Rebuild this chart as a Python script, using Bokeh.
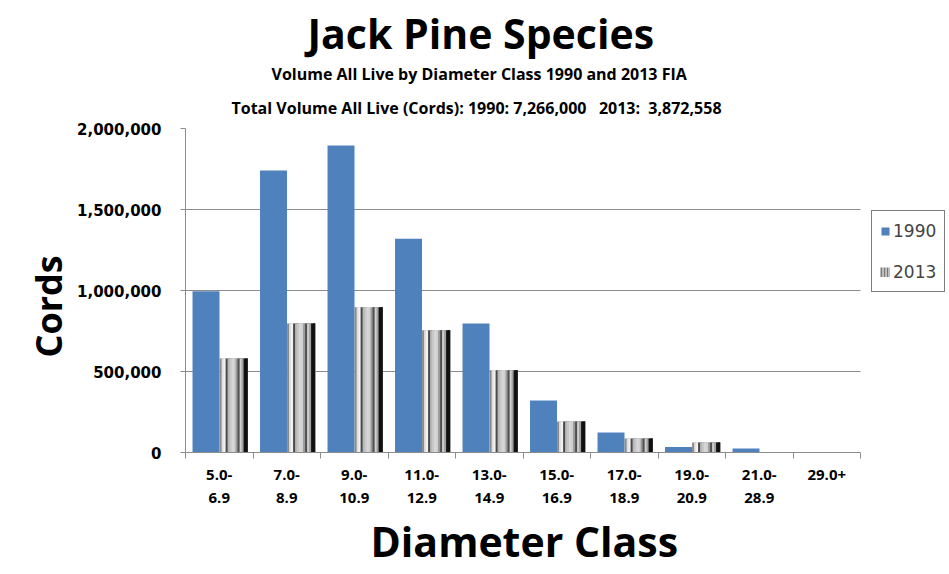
import numpy as np
from bokeh.plotting import figure
from bokeh.models import (Range1d, FixedTicker, NumeralTickFormatter, Title,
                          Legend, LegendItem, ColumnDataSource, BoxAnnotation)
from bokeh.embed import file_html
from bokeh.resources import INLINE

# ---- data ----
categories = ["5.0-\n6.9", "7.0-\n8.9", "9.0-\n10.9", "11.0-\n12.9", "13.0-\n14.9",
              "15.0-\n16.9", "17.0-\n18.9", "19.0-\n20.9", "21.0-\n28.9", "29.0+"]
vol_1990 = [995000, 1740000, 1895000, 1320000, 797000, 321000, 123000, 34000, 25000, 0]
vol_2013 = [580000, 797000, 896000, 754000, 507000, 192000, 86000, 62000, 0, 0]
y_ticks = [0, 500000, 1000000, 1500000, 2000000]
series_names = ["1990", "2013"]

# ---- styles ----
BLUE = "#4f81bd"
GRID = "#8c8c8c"
STRIPES = ["#8a8a8a", "#e0e0e0", "#f2f2f2", "#4a4a4a", "#b8b8b8", "#c8c8c8", "#d8d8d8",
           "#d0d0d0", "#9a9a9a", "#505050", "#cfcfcf", "#a0a0a0", "#111111", "#111111"]
TITLE_FONT = "Open Sans"
NB = "\u00a0"

n = len(categories)
idx = np.arange(n)
centers = idx + 0.5
# frame spans 764 px, categories occupy 675 px of it; the rest holds the legend
x_end = n * 764 / 675

p = figure(width=949, height=574, output_backend="svg", toolbar_location=None,
           x_range=Range1d(0, x_end), y_range=Range1d(0, 2000000),
           min_border_left=185, min_border_right=0, min_border_top=128,
           min_border_bottom=122)
p.outline_line_color = None
p.background_fill_color = "white"
p.border_fill_color = "white"

# 1990 bars
src90 = ColumnDataSource(dict(x=centers - 0.196, top=vol_1990))
r90 = p.vbar(x="x", top="top", width=0.40, source=src90, fill_color=BLUE, line_color=None)

# 2013 bars, drawn as vertical stripes
left = idx + 0.505
right = idx + 0.92
step = (right - left) / len(STRIPES)
for k, c in enumerate(STRIPES):
    l = left + k * step
    src = ColumnDataSource(dict(x=(l + right) / 2, w=right - l, top=vol_2013))
    p.vbar(x="x", top="top", width="w", source=src, fill_color=c, line_color=None)

# legend proxy for 2013: a single-point line (draws nothing in the plot);
# its thick dashed legend icon gives vertical stripes
src13 = ColumnDataSource(dict(x=[centers[0]], y=[vol_2013[-1]]))
r13 = p.line(x="x", y="y", source=src13, line_color="#7a7a7a", line_width=10,
             line_dash="2 1")

# blank out the grid to the right of the category area
p.add_layout(BoxAnnotation(left=n, fill_color="white", fill_alpha=1.0, line_color=None))

legend = Legend(items=[LegendItem(label=series_names[0], renderers=[r90]),
                       LegendItem(label=series_names[1], renderers=[r13])],
                location=(686, 160), border_line_color="black", border_line_width=1,
                label_text_font="DejaVu Sans", label_text_font_size="17px",
                glyph_width=10, glyph_height=10, label_standoff=3,
                spacing=18, padding=8, margin=0, label_height=23,
                background_fill_alpha=1.0)
p.add_layout(legend, "center")

# axes
p.xgrid.visible = False
p.ygrid.ticker = FixedTicker(ticks=y_ticks)
p.ygrid.grid_line_color = GRID

p.yaxis.ticker = FixedTicker(ticks=y_ticks)
p.yaxis.formatter = NumeralTickFormatter(format="0,0")
p.yaxis.major_label_text_font = "DejaVu Sans"
p.yaxis.major_label_text_font_style = "bold"
p.yaxis.major_label_text_font_size = "15px"
p.yaxis.major_label_text_color = "black"
p.yaxis.major_tick_out = 5
p.yaxis.major_tick_in = 0
p.yaxis.minor_tick_line_color = None
p.yaxis.axis_line_color = GRID
p.yaxis.major_tick_line_color = GRID
p.yaxis.major_label_standoff = 19

p.xaxis.bounds = (0, n)
p.xaxis.ticker = FixedTicker(ticks=list(centers), minor_ticks=list(range(n + 1)))
p.xaxis.major_label_overrides = {float(c): lab for c, lab in zip(centers, categories)}
p.xaxis.major_label_text_font = TITLE_FONT
p.xaxis.major_label_text_font_style = "bold"
p.xaxis.major_label_text_font_size = "15px"
p.xaxis.major_label_text_color = "black"
p.xaxis.major_label_text_line_height = 1.18
p.xaxis.major_tick_out = 0
p.xaxis.major_tick_in = 0
p.xaxis.minor_tick_out = 6
p.xaxis.minor_tick_in = 0
p.xaxis.minor_tick_line_color = GRID
p.xaxis.axis_line_color = GRID
p.xaxis.major_label_standoff = 5

# axis titles as plot titles so they can be placed like the reference
p.add_layout(Title(text="Diameter Class", align="left", offset=185, standoff=0,
                   text_font=TITLE_FONT, text_font_style="bold",
                   text_font_size="41px", text_color="black"), "below")
p.add_layout(Title(text="Cords", align="left", offset=95, standoff=4,
                   text_font=TITLE_FONT, text_font_style="bold",
                   text_font_size="36px", text_color="black"), "left")

# titles (added innermost first)
sub2 = "Total Volume All Live (Cords): 1990: 7,266,000" + NB * 3 + "2013:" + NB * 2 + "3,872,558"
p.add_layout(Title(text=sub2, align="left", offset=46, standoff=20,
                   text_font=TITLE_FONT, text_font_style="bold",
                   text_font_size="16px", text_color="black"), "above")
p.add_layout(Title(text="Volume All Live by Diameter Class 1990 and 2013 FIA",
                   align="left", offset=86, standoff=0,
                   text_font=TITLE_FONT, text_font_style="bold",
                   text_font_size="16px", text_color="black"), "above")
p.add_layout(Title(text="Jack Pine Species", align="left", offset=122, standoff=0,
                   text_font=TITLE_FONT, text_font_style="bold",
                   text_font_size="41px", text_color="black"), "above")

open("out.html", "w").write(file_html(p, INLINE))
